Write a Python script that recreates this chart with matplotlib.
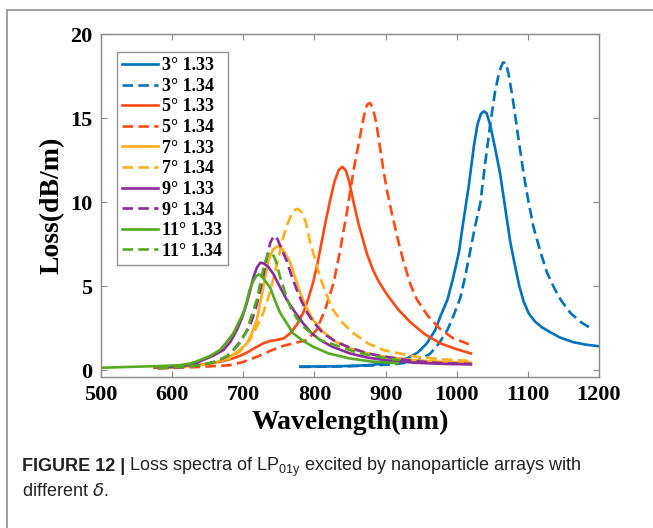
import matplotlib
matplotlib.use("Agg")
import matplotlib.pyplot as plt
from matplotlib.lines import Line2D

# wavelength (nm) / loss (dB/m) read for each tilt angle and analyte index
wl_3_133 = [780, 820, 860, 880, 897, 915, 930, 945, 958, 970, 977, 987, 995, 1003, 1009, 1017, 1024, 1029,
            1034, 1038, 1042, 1047, 1054, 1061, 1068, 1075, 1082, 1088, 1094, 1101, 1110, 1120, 1130, 1145,
            1164, 1182, 1200]
loss_3_133 = [0.22, 0.23, 0.27, 0.32, 0.4, 0.55, 0.7, 1.05, 1.6, 2.4, 3.2, 4.2, 5.5, 7.0, 8.75, 11.0, 13.3, 14.6,
              15.25, 15.4, 15.3, 14.6, 13.2, 11.7, 9.7, 7.7, 6.2, 5.0, 4.1, 3.4, 2.9, 2.55, 2.3, 1.95, 1.67,
              1.52, 1.43]

wl_3_134 = [780, 830, 880, 910, 939, 952, 963, 975, 987, 996, 1005, 1012, 1019, 1026, 1033, 1040, 1047, 1054,
            1060, 1065, 1069, 1073, 1079, 1086, 1094, 1101, 1108, 1118, 1127, 1137, 1146, 1160, 1175, 1190]
loss_3_134 = [0.2, 0.22, 0.28, 0.35, 0.5, 0.7, 1.0, 1.6, 2.4, 3.3, 4.3, 5.6, 7.1, 8.6, 9.9, 12.3, 14.6, 16.6,
              17.8, 18.3, 18.3, 17.6, 16.1, 14.0, 11.7, 10.0, 8.5, 7.0, 5.8, 4.9, 4.2, 3.4, 2.85, 2.45]

wl_5_133 = [575, 600, 620, 635, 650, 660, 672, 685, 695, 705, 715, 728, 738, 747, 757, 766, 775, 784, 791, 798,
            804, 810, 816, 822, 828, 834, 839, 844, 849, 855, 862, 868, 874, 882, 890, 902, 918, 935, 955, 977,
            1000, 1020]
loss_5_133 = [0.15, 0.2, 0.25, 0.3, 0.38, 0.45, 0.55, 0.7, 0.85, 1.05, 1.3, 1.6, 1.75, 1.8, 1.9, 2.2, 2.7, 3.4,
              4.2, 5.2, 6.3, 7.6, 8.9, 10.1, 11.2, 11.9, 12.1, 11.9, 11.2, 10.0, 8.7, 7.8, 6.9, 6.0, 5.3, 4.5,
              3.6, 2.85, 2.15, 1.6, 1.25, 1.0]

wl_5_134 = [580, 610, 640, 660, 681, 700, 719, 735, 752, 770, 790, 803, 815, 827, 836, 846, 855, 864, 870, 874,
            878, 882, 887, 892, 897, 902, 909, 916, 925, 935, 944, 960, 977, 995, 1014, 1020]
loss_5_134 = [0.12, 0.15, 0.2, 0.25, 0.3, 0.5, 0.8, 1.1, 1.4, 1.6, 1.8, 2.4, 3.6, 5.2, 7.1, 9.5, 11.9, 13.9,
              15.2, 15.8, 15.9, 15.6, 14.7, 13.3, 11.9, 10.7, 9.3, 8.0, 6.5, 5.1, 4.2, 3.2, 2.45, 1.9, 1.6, 1.45]

wl_7_133 = [580, 610, 640, 660, 681, 695, 705, 712, 719, 728, 735, 742, 749, 755, 761, 766, 773, 780, 789, 798,
            812, 830, 850, 875, 900, 940, 980, 1020]
loss_7_133 = [0.15, 0.2, 0.3, 0.45, 0.8, 1.2, 1.6, 2.2, 3.0, 4.9, 6.5, 7.2, 7.4, 7.2, 6.8, 6.4, 5.5, 4.6, 3.7,
              3.0, 2.3, 1.7, 1.3, 1.0, 0.8, 0.6, 0.5, 0.45]

wl_7_134 = [580, 610, 640, 660, 681, 695, 709, 718, 728, 735, 742, 749, 756, 762, 768, 773, 777, 782, 788, 794,
            801, 808, 817, 826, 840, 855, 875, 897, 920, 944, 980, 1020]
loss_7_134 = [0.12, 0.18, 0.3, 0.45, 0.7, 1.1, 1.8, 2.5, 3.4, 4.3, 5.4, 6.6, 7.9, 8.7, 9.3, 9.55, 9.6, 9.4, 8.8,
              7.6, 6.6, 5.5, 4.5, 3.6, 2.8, 2.2, 1.6, 1.2, 1.0, 0.8, 0.65, 0.55]

wl_9_133 = [580, 610, 630, 643, 657, 672, 682, 691, 698, 705, 710, 714, 719, 724, 729, 735, 742, 751, 761, 772,
            784, 796, 808, 825, 850, 875, 900, 940, 980, 1020]
loss_9_133 = [0.15, 0.22, 0.35, 0.6, 0.85, 1.2, 1.7, 2.4, 3.1, 4.0, 4.8, 5.5, 6.1, 6.4, 6.35, 6.15, 5.75, 5.0,
              4.2, 3.5, 2.8, 2.2, 1.8, 1.4, 1.0, 0.75, 0.6, 0.45, 0.38, 0.35]

wl_9_134 = [580, 610, 640, 660, 676, 686, 697, 709, 717, 724, 729, 733, 738, 743, 748, 754, 761, 768, 775, 782,
            790, 800, 812, 830, 850, 875, 900, 940, 980, 1020]
loss_9_134 = [0.12, 0.18, 0.3, 0.5, 0.8, 1.2, 1.8, 2.6, 3.6, 4.8, 5.8, 6.7, 7.6, 8.0, 7.8, 7.2, 6.5, 5.6, 4.8,
              4.1, 3.4, 2.8, 2.2, 1.7, 1.35, 1.0, 0.8, 0.55, 0.42, 0.38]

wl_11_133 = [500, 540, 580, 610, 625, 639, 653, 667, 677, 686, 693, 700, 705, 709, 714, 718, 722, 726, 731, 738,
             745, 752, 761, 770, 784, 798, 820, 850, 880, 917]
loss_11_133 = [0.15, 0.2, 0.25, 0.3, 0.4, 0.6, 0.85, 1.2, 1.7, 2.2, 2.8, 3.4, 4.1, 4.8, 5.3, 5.6, 5.7, 5.6, 5.3,
               4.9, 4.1, 3.4, 2.8, 2.2, 1.75, 1.4, 1.0, 0.7, 0.52, 0.42]

wl_11_134 = [580, 610, 640, 660, 680, 695, 705, 712, 719, 724, 728, 732, 736, 740, 745, 752, 759, 766, 775, 784,
             796, 808, 822, 836, 860, 890, 920]
loss_11_134 = [0.12, 0.2, 0.3, 0.5, 0.9, 1.6, 2.4, 3.3, 4.2, 5.2, 6.0, 6.6, 7.0, 7.0, 6.6, 5.5, 4.6, 3.75, 3.1,
               2.6, 2.2, 1.8, 1.6, 1.4, 1.05, 0.8, 0.6]

labels = ["3° 1.33", "3° 1.34", "5° 1.33", "5° 1.34", "7° 1.33",
          "7° 1.34", "9° 1.33", "9° 1.34", "11° 1.33", "11° 1.34"]
xticks = [500, 600, 700, 800, 900, 1000, 1100, 1200]
yticks = [0, 5, 10, 15, 20]

series = [(wl_3_133, loss_3_133), (wl_3_134, loss_3_134),
          (wl_5_133, loss_5_133), (wl_5_134, loss_5_134),
          (wl_7_133, loss_7_133), (wl_7_134, loss_7_134),
          (wl_9_133, loss_9_133), (wl_9_134, loss_9_134),
          (wl_11_133, loss_11_133), (wl_11_134, loss_11_134)]
colors = ["#0072BD", "#FF4A14", "#FFAE1C", "#8A2C9A", "#55AA22"]

serif = "Liberation Serif"
fig = plt.figure(figsize=(6.53, 5.28), dpi=100)
ax = fig.add_axes([0.1547, 0.286, 0.7626, 0.6496])

for i, (x, y) in enumerate(series):
    ls = "-" if i % 2 == 0 else (0, (4, 2))
    ax.plot(x, y, color=colors[i // 2], lw=1.9, linestyle=ls, label=labels[i])

ax.set_xlim(500, 1200)
ax.set_ylim(-0.4, 20)
ax.set_xticks(xticks)
ax.set_yticks(yticks)
ax.tick_params(direction="in", top=True, right=True, length=4, width=0.8, color="#888888", pad=6)
for lab in ax.get_xticklabels() + ax.get_yticklabels():
    lab.set_fontfamily(serif)
    lab.set_fontweight("bold")
    lab.set_fontsize(16)
for sp in ax.spines.values():
    sp.set_color("#888888")
    sp.set_linewidth(1.0)

ax.set_xlabel("Wavelength(nm)", fontfamily=serif, fontweight="bold", fontsize=20, labelpad=3)
ax.set_ylabel("Loss(dB/m)", fontfamily=serif, fontweight="bold", fontsize=20, labelpad=4)

leg = ax.legend(loc="upper left", bbox_to_anchor=(0.032, 0.948), frameon=True, fancybox=False,
                prop={"family": serif, "weight": "bold", "size": 13}, handlelength=2.0,
                handletextpad=0.2, labelspacing=0.2, borderpad=0.3, borderaxespad=0.0)
leg.get_frame().set_edgecolor("#777777")
leg.get_frame().set_linewidth(1.0)

# outer frame lines of the figure panel
fig.add_artist(Line2D([0.0107, 1.0], [0.981, 0.981], color="#999999", lw=1.3))
fig.add_artist(Line2D([0.0107, 0.0107], [0.0, 0.981], color="#999999", lw=1.3))

# caption
fig.canvas.draw()
renderer = fig.canvas.get_renderer()
cap_font = "Liberation Sans"
head = fig.text(0.034, 0.108, "FIGURE 12 |", fontfamily=cap_font, fontweight="bold", fontsize=13,
                color="#222222")
bb = head.get_window_extent(renderer).transformed(fig.transFigure.inverted())
fig.text(bb.x1 + 0.006, 0.108,
         r"Loss spectra of LP$_{\mathregular{01y}}$ excited by nanoparticle arrays with",
         fontfamily=cap_font, fontsize=13, color="#222222")
fig.text(0.034, 0.060, r"different $\delta$.", fontfamily=cap_font, fontsize=13, color="#222222")

fig.savefig("out.png", dpi=100)
